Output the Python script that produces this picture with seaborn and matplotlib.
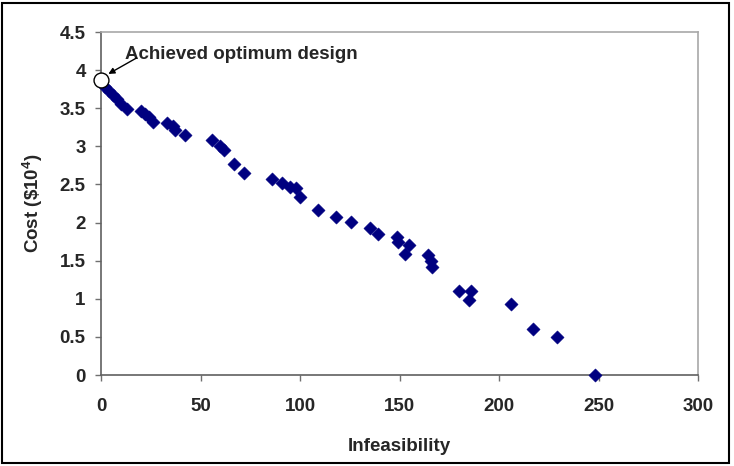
import matplotlib
matplotlib.use("Agg")
import matplotlib.pyplot as plt
import seaborn as sns
import pandas as pd
from matplotlib.ticker import FuncFormatter, MultipleLocator
from matplotlib.patches import Rectangle

# ---- data ----
infeasibility = [2, 4, 6, 8, 10, 13,
                 20, 22, 24, 26,
                 33, 36, 37, 42,
                 56, 60, 62, 67, 72,
                 86, 91, 95, 98, 100,
                 109, 118, 125.5, 135, 139,
                 148.5, 149, 155, 153, 164.5, 166, 166.5,
                 180, 186, 185, 206, 217, 229, 248]
cost = [3.78, 3.73, 3.68, 3.62, 3.56, 3.49,
        3.47, 3.43, 3.38, 3.32,
        3.30, 3.27, 3.22, 3.15,
        3.08, 3.00, 2.95, 2.77, 2.65,
        2.57, 2.52, 2.47, 2.45, 2.34,
        2.16, 2.07, 2.01, 1.93, 1.85,
        1.81, 1.74, 1.71, 1.59, 1.57, 1.50, 1.42,
        1.10, 1.10, 0.99, 0.93, 0.60, 0.50, 0.00]
optimum_x = [0]
optimum_y = [3.87]
annotation_text = "Achieved optimum design"
x_label = "Infeasibility"
y_label = r"Cost (\$10$^{\mathbf{4}}$)"

sns.set_style("ticks")
plt.rcParams["font.family"] = ["Liberation Sans", "DejaVu Sans"]
plt.rcParams["font.weight"] = "bold"
plt.rcParams["mathtext.fontset"] = "custom"
plt.rcParams["mathtext.rm"] = "Liberation Sans:bold"
plt.rcParams["mathtext.bf"] = "Liberation Sans:bold"

fig = plt.figure(figsize=(7.34, 4.66), dpi=100)
ax = fig.add_axes([101/734, 1-375/466, 597/734, 343/466])

df = pd.DataFrame({"x": infeasibility, "y": cost})
sns.scatterplot(data=df, x="x", y="y", ax=ax, marker="D", s=46,
                color="#000080", edgecolor="#000080", linewidth=0.3,
                zorder=3, clip_on=False)
ax.scatter(optimum_x, optimum_y, s=115, facecolor="white", edgecolor="black",
           linewidth=1.0, zorder=5, clip_on=False)

ax.set_xlim(0, 300)
ax.set_ylim(0, 4.5)
ax.xaxis.set_major_locator(MultipleLocator(50))
ax.yaxis.set_major_locator(MultipleLocator(0.5))
fmt = FuncFormatter(lambda v, p: f"{v:g}")
ax.xaxis.set_major_formatter(fmt)
ax.yaxis.set_major_formatter(fmt)

ax.tick_params(axis="both", direction="out", length=4, width=1.0,
               color="#707070", labelsize=13.5)
ax.tick_params(axis="y", pad=7)
ax.tick_params(axis="x", pad=12.5)
for lab in ax.get_xticklabels() + ax.get_yticklabels():
    lab.set_fontweight("bold")

for side in ["left", "bottom"]:
    ax.spines[side].set_color("#606060")
    ax.spines[side].set_linewidth(1.2)
for side in ["top", "right"]:
    ax.spines[side].set_visible(True)
    ax.spines[side].set_color("#a8a8a8")
    ax.spines[side].set_linewidth(1.2)

ax.set_xlabel(x_label, fontsize=13.5, fontweight="bold")
ax.set_ylabel(y_label, fontsize=13.5, fontweight="bold")
ax.xaxis.set_label_coords(0.5, (375-438)/343)
ax.yaxis.set_label_coords((45-101)/597, 0.5)

ax.text(12.1, 4.20, annotation_text, fontsize=13.5, fontweight="bold",
        ha="left", va="center", zorder=6)
ax.annotate("", xy=(3.7, 3.95), xytext=(17.9, 4.16),
            arrowprops=dict(arrowstyle="-|>", color="black", lw=1.0,
                            mutation_scale=9, shrinkA=0, shrinkB=0),
            zorder=6)

fig.patches.append(Rectangle((2/734, 3/466), 727/734, 460/466,
                             transform=fig.transFigure, fill=False,
                             edgecolor="black", linewidth=1.5))

fig.savefig("out.png", dpi=100)
